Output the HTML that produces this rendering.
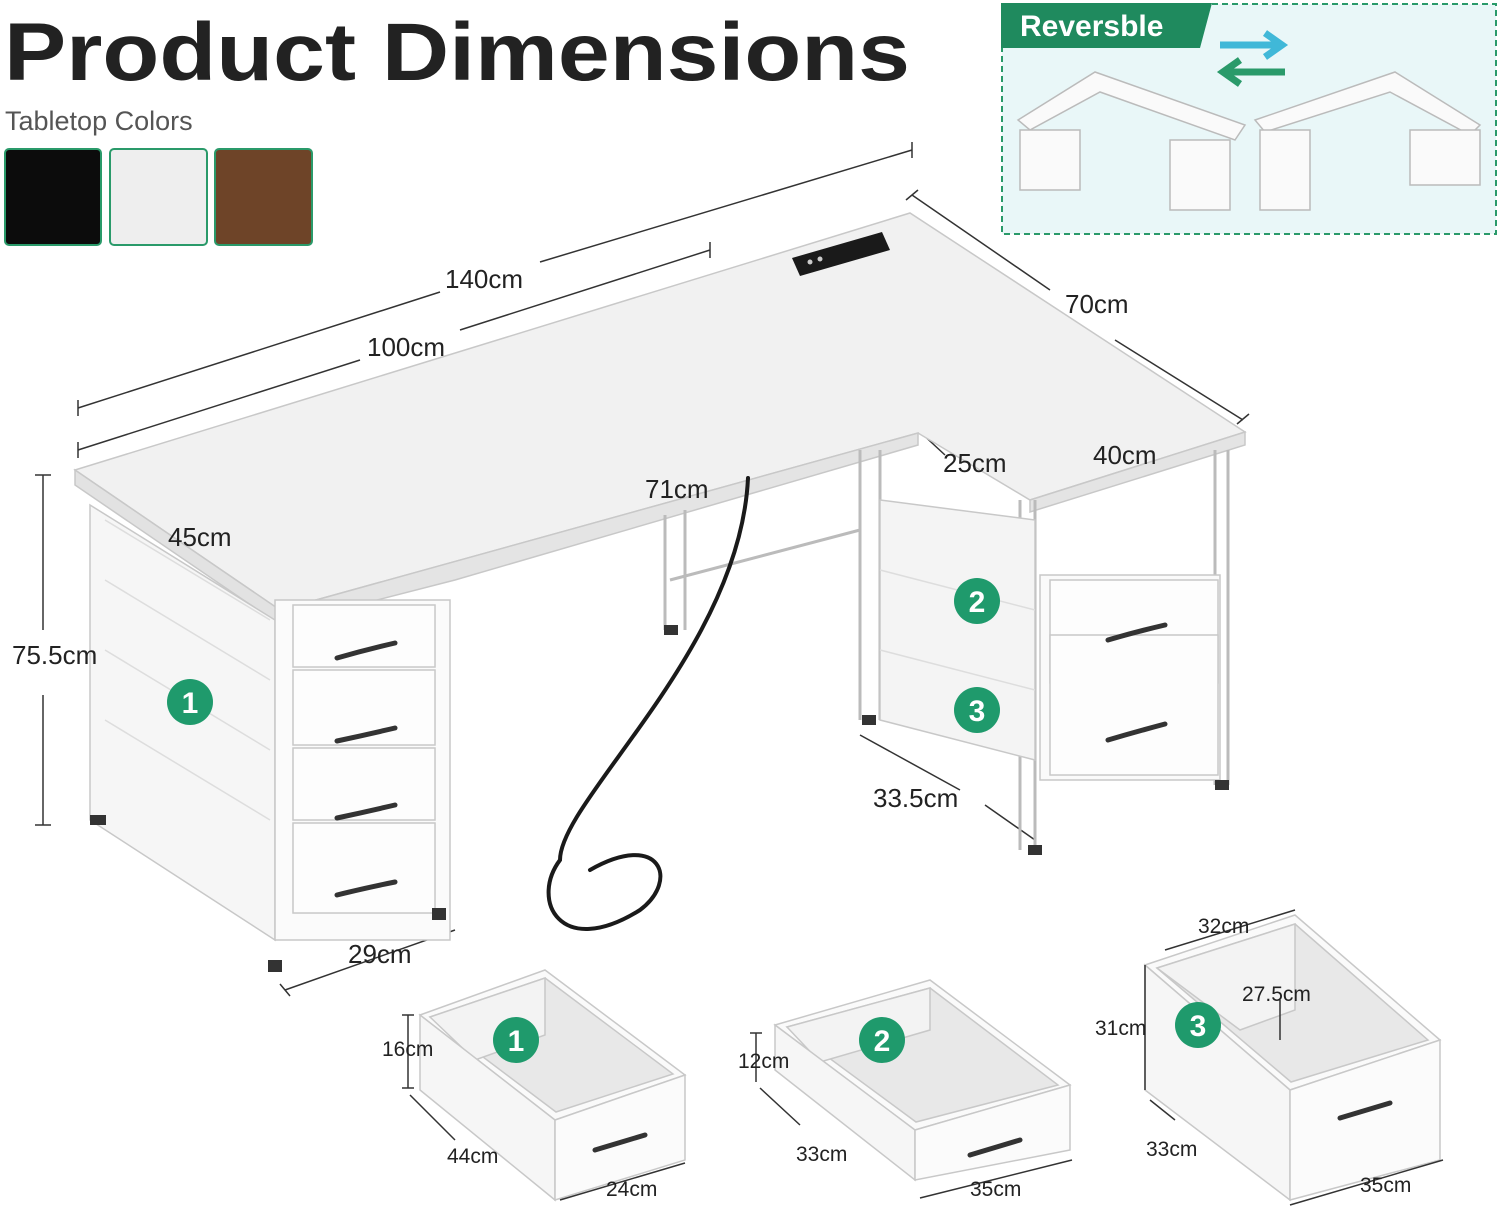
<!DOCTYPE html>
<html><head><meta charset="utf-8"><style>
html,body{margin:0;padding:0;background:#fff;}
svg{display:block;}
text{font-family:"Liberation Sans",sans-serif;fill:#222;}
</style></head><body>
<svg width="1500" height="1224" viewBox="0 0 1500 1224" xmlns="http://www.w3.org/2000/svg">
<rect width="1500" height="1224" fill="#fff"/>
<text x="4" y="80" font-size="82" font-weight="bold" fill="#1a1a1a" textLength="906" lengthAdjust="spacingAndGlyphs">Product Dimensions</text>
<text x="5" y="130" font-size="27" style="fill:#555">Tabletop Colors</text>
<rect x="5" y="149" width="96" height="96" rx="4" fill="#0c0c0c" stroke="#2a9a6a" stroke-width="2"/>
<rect x="110" y="149" width="97" height="96" rx="4" fill="#eeeeee" stroke="#2a9a6a" stroke-width="2"/>
<rect x="215" y="149" width="97" height="96" rx="4" fill="#6e4428" stroke="#2a9a6a" stroke-width="2"/>
<rect x="1002" y="4" width="494" height="230" fill="#e9f7f8" stroke="#2a9a6a" stroke-width="2" stroke-dasharray="6 4"/>
<path d="M1001 3 H1212 L1200 48 H1001 Z" fill="#1f8a5e"/>
<text x="1020" y="36" font-size="30" font-weight="bold" style="fill:#fff">Reversble</text>
<path d="M1220 45 H1280 M1265 33 L1282 45 L1265 57" stroke="#40b8d8" stroke-width="7" fill="none"/>
<path d="M1285 72 H1225 M1240 60 L1223 72 L1240 84" stroke="#2a9a6a" stroke-width="7" fill="none"/>
<g fill="#fafafa" stroke="#bbb" stroke-width="1.5">
<path d="M1018 120 L1095 72 L1245 125 L1235 140 L1100 92 L1030 130 Z"/>
<rect x="1020" y="130" width="60" height="60"/><rect x="1170" y="140" width="60" height="70"/>
<path d="M1255 120 L1395 72 L1480 125 L1470 135 L1390 92 L1265 132 Z"/>
<rect x="1260" y="130" width="50" height="80"/><rect x="1410" y="130" width="70" height="55"/>
</g>
<g stroke="#333" stroke-width="1.5" fill="none">
<path d="M78 408 L440 292 M540 262 L912 150 M78 400 V416 M912 142 V158"/>
<path d="M78 450 L360 360 M460 330 L710 250 M78 442 V458 M710 242 V258"/>
<path d="M912 195 L1050 290 M1115 340 L1243 420 M906 200 L918 190 M1237 424 L1249 414"/>
<path d="M43 475 V630 M43 695 V825 M35 475 H51 M35 825 H51"/>
<path d="M235 570 L280 600"/>
<path d="M455 562 L630 508 M735 478 L918 420"/>
<path d="M285 990 L455 930 M280 984 L290 996"/>
<path d="M860 735 L960 790 M985 805 L1035 840"/>
<path d="M918 430 L945 455 M1030 505 L1080 475"/>
</g>
<g stroke="#c8c8c8" stroke-width="1.5">
<path d="M75 470 L910 213 L1245 432 L1030 500 L918 433 L280 610 Z" fill="#f1f1f1"/>
<path d="M75 470 L280 610 L280 625 L75 485 Z" fill="#e2e2e2"/>
<path d="M280 610 L918 433 L918 445 L455 580 L280 625 Z" fill="#e4e4e4"/>
<path d="M1030 500 L1245 432 L1245 445 L1030 512 Z" fill="#e4e4e4"/>
<path d="M90 505 L275 620 L275 940 L90 820 Z" fill="#f6f6f6"/>
<path d="M105 520 L270 620 M105 580 L270 680 M105 650 L270 750 M105 720 L270 820" stroke="#ddd"/>
<rect x="275" y="600" width="175" height="340" fill="#fbfbfb"/>
<rect x="293" y="605" width="142" height="62" fill="#fdfdfd"/>
<rect x="293" y="670" width="142" height="75" fill="#fdfdfd"/>
<rect x="293" y="748" width="142" height="72" fill="#fdfdfd"/>
<rect x="293" y="823" width="142" height="90" fill="#fdfdfd"/>
<path d="M665 515 V630 M685 510 V630 M670 580 L860 530 M860 450 V720 M880 450 V720 M1020 500 V850 M1035 500 V850 M1215 450 V785 M1228 450 V785" stroke="#bbb" stroke-width="3"/>
<path d="M880 500 L1035 520 L1035 760 L880 720 Z" fill="#f4f4f4"/>
<path d="M880 570 L1035 610 M880 650 L1035 690" stroke="#ddd"/>
<rect x="1040" y="575" width="180" height="205" fill="#fafafa"/>
<rect x="1050" y="580" width="168" height="103" fill="#fdfdfd"/>
<rect x="1050" y="635" width="168" height="140" fill="#fdfdfd"/>
</g>
<path d="M792 258 L882 232 L890 250 L800 276 Z" fill="#1a1a1a"/>
<circle cx="810" cy="262" r="2.5" fill="#ccc"/><circle cx="820" cy="259" r="2.5" fill="#ccc"/>
<g fill="#333">
<rect x="90" y="815" width="16" height="10"/><rect x="268" y="960" width="14" height="12"/><rect x="432" y="908" width="14" height="12"/><rect x="664" y="625" width="14" height="10"/><rect x="862" y="715" width="14" height="10"/><rect x="1028" y="845" width="14" height="10"/><rect x="1215" y="780" width="14" height="10"/>
</g>
<g stroke="#333" stroke-width="5" fill="none" stroke-linecap="round">
<path d="M337 658 Q365 650 395 643 M337 741 Q365 735 395 728 M337 818 Q365 812 395 805 M337 895 Q365 888 395 882 M1108 640 Q1135 632 1165 625 M1108 740 Q1135 732 1165 724"/>
<path d="M748 478 C740 650 560 800 560 860 C530 900 560 960 640 910 C680 880 660 830 590 870" stroke="#1a1a1a" stroke-width="4"/>
</g>
<!-- drawers (open boxes) -->
<g stroke="#c8c8c8" stroke-width="1.5">
<path d="M420 1015 L545 970 L685 1075 L555 1120 Z" fill="#fafafa"/>
<path d="M430 1017 L545 978 L673 1074 L556 1112 Z" fill="#e8e8e8"/>
<path d="M430 1017 L545 978 L545 1035 L475 1060 Z" fill="#f3f3f3"/>
<path d="M420 1015 L555 1120 L555 1200 L420 1090 Z" fill="#f6f6f6"/>
<path d="M555 1120 L685 1075 L685 1160 L555 1200 Z" fill="#fbfbfb"/>
<path d="M775 1025 L930 980 L1070 1085 L915 1130 Z" fill="#fafafa"/>
<path d="M787 1027 L930 988 L1058 1085 L916 1122 Z" fill="#e8e8e8"/>
<path d="M787 1027 L930 988 L930 1030 L820 1062 Z" fill="#f3f3f3"/>
<path d="M775 1025 L915 1130 L915 1180 L775 1070 Z" fill="#f6f6f6"/>
<path d="M915 1130 L1070 1085 L1070 1150 L915 1180 Z" fill="#fbfbfb"/>
<path d="M1145 965 L1295 915 L1440 1040 L1290 1090 Z" fill="#fafafa"/>
<path d="M1157 968 L1295 924 L1428 1040 L1291 1082 Z" fill="#e8e8e8"/>
<path d="M1157 968 L1295 924 L1295 1010 L1240 1030 Z" fill="#f3f3f3"/>
<path d="M1145 965 L1290 1090 L1290 1200 L1145 1090 Z" fill="#f6f6f6"/>
<path d="M1290 1090 L1440 1040 L1440 1160 L1290 1200 Z" fill="#fbfbfb"/>
</g>
<g stroke="#333" stroke-width="5" fill="none" stroke-linecap="round">
<path d="M595 1150 L645 1135 M970 1155 L1020 1140 M1340 1118 L1390 1103"/>
</g>
<g stroke="#333" stroke-width="1.5" fill="none">
<path d="M408 1015 V1088 M402 1015 H414 M402 1088 H414"/>
<path d="M410 1095 L455 1140 M560 1200 L685 1163"/>
<path d="M756 1033 V1082 M750 1033 H762 M760 1088 L800 1125 M920 1198 L1072 1160"/>
<path d="M1145 965 V1090 M1165 950 L1295 910 M1280 1000 V1040 M1150 1100 L1175 1120 M1290 1205 L1443 1160"/>
</g>
<g font-size="26">
<text x="445" y="288">140cm</text>
<text x="367" y="356">100cm</text>
<text x="1065" y="313">70cm</text>
<text x="168" y="546">45cm</text>
<text x="12" y="664">75.5cm</text>
<text x="645" y="498">71cm</text>
<text x="943" y="472">25cm</text>
<text x="1093" y="464">40cm</text>
<text x="873" y="807">33.5cm</text>
<text x="348" y="963">29cm</text>
</g>
<g font-size="21">
<text x="382" y="1056">16cm</text>
<text x="447" y="1163">44cm</text>
<text x="606" y="1196">24cm</text>
<text x="738" y="1068">12cm</text>
<text x="796" y="1161">33cm</text>
<text x="970" y="1196">35cm</text>
<text x="1198" y="933">32cm</text>
<text x="1242" y="1001">27.5cm</text>
<text x="1095" y="1035">31cm</text>
<text x="1146" y="1156">33cm</text>
<text x="1360" y="1192">35cm</text>
</g>
<g font-size="30" font-weight="bold" text-anchor="middle">
<circle cx="190" cy="702" r="23" fill="#1f9a6c"/><text x="190" y="713" style="fill:#fff">1</text>
<circle cx="977" cy="601" r="23" fill="#1f9a6c"/><text x="977" y="612" style="fill:#fff">2</text>
<circle cx="977" cy="710" r="23" fill="#1f9a6c"/><text x="977" y="721" style="fill:#fff">3</text>
<circle cx="516" cy="1040" r="23" fill="#1f9a6c"/><text x="516" y="1051" style="fill:#fff">1</text>
<circle cx="882" cy="1040" r="23" fill="#1f9a6c"/><text x="882" y="1051" style="fill:#fff">2</text>
<circle cx="1198" cy="1025" r="23" fill="#1f9a6c"/><text x="1198" y="1036" style="fill:#fff">3</text>
</g>
</svg>
</body></html>
